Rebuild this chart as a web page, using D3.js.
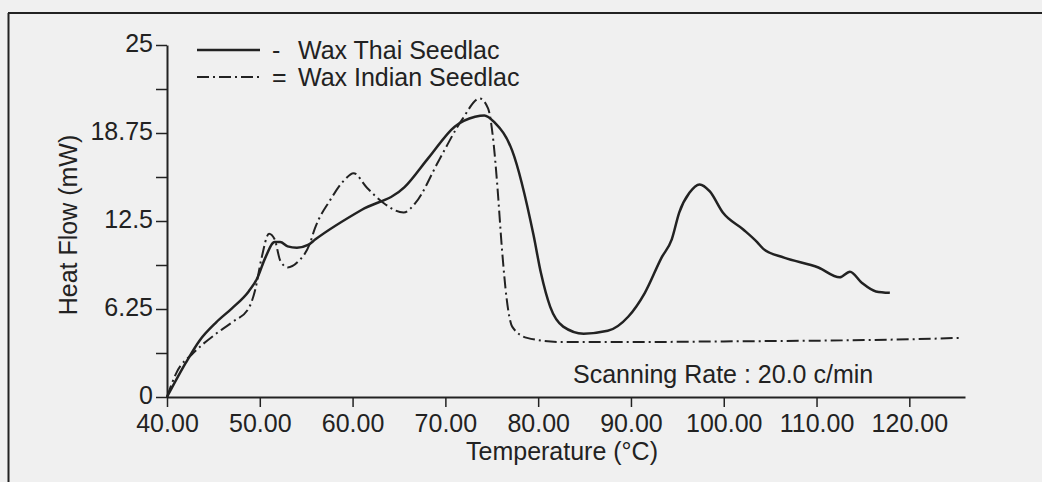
<!DOCTYPE html>
<html>
<head>
<meta charset="utf-8">
<script src="https://cdn.jsdelivr.net/npm/d3@7"></script>
<style>
  html, body { margin: 0; padding: 0; background: #f0f0f0; }
  svg { display: block; }
  text { font-family: "Liberation Sans", Arial, sans-serif; fill: #222; }
</style>
</head>
<body>
<script>
// ---- data ----
const thaiTemp = [40, 42, 43.5, 45.3, 47, 48.8, 49.7, 50.6, 51.6, 52.2, 53, 54, 55.2, 56, 61, 65.6, 68.2, 71, 73.2, 74.2, 75.3, 77.2, 79.5, 80.3, 81.3, 82.7, 84.9, 87.5, 89.7, 91.5, 93.3, 94.4, 95.2, 96.3, 97.4, 98.5, 99.9, 102.1, 103.6, 104.3, 106.5, 110.2, 112.5, 113.6, 114.9, 116.4, 117.9];
const thaiHeat = [0, 2.4, 4.0, 5.3, 6.3, 7.5, 8.4, 9.9, 11.0, 11.0, 10.7, 10.6, 10.8, 11.2, 13.3, 14.9, 17.0, 19.2, 19.9, 20.0, 19.5, 17.5, 11.5, 8.8, 6.4, 5.0, 4.5, 4.7, 5.7, 7.4, 9.9, 11.2, 13.1, 14.5, 15.1, 14.6, 13.1, 11.9, 11.0, 10.5, 9.9, 9.2, 8.5, 8.9, 8.1, 7.5, 7.4];

const indianTemp = [40, 41, 42.8, 45.3, 47, 48.8, 49.5, 50.2, 51, 51.6, 52.2, 53, 54.1, 55.4, 55.9, 57.6, 59.1, 60.1, 61.5, 63.3, 65.5, 66.8, 69.3, 71.8, 73.7, 74.6, 75.2, 75.6, 76.1, 76.6, 77.2, 78.8, 82.5, 90, 100, 110, 120, 125.6];
const indianHeat = [0, 1.7, 3.1, 4.5, 5.3, 6.3, 7.6, 9.9, 11.6, 11.2, 9.7, 9.2, 9.6, 10.9, 11.9, 14.0, 15.4, 15.9, 14.9, 13.8, 13.1, 13.8, 16.8, 19.7, 21.2, 20.5, 18, 15, 10.5, 7, 5.0, 4.2, 3.9, 3.9, 3.95, 4.0, 4.1, 4.2];

const seriesNames = ["Wax Thai Seedlac", "Wax Indian Seedlac"];
const legendMarks = ["-", "="];
const xTicks = [40, 50, 60, 70, 80, 90, 100, 110, 120];
const xTickLabels = ["40.00", "50.00", "60.00", "70.00", "80.00", "90.00", "100.00", "110.00", "120.00"];
const yTicks = [0, 3.125, 6.25, 9.375, 12.5, 15.625, 18.75, 21.875, 25];
const yTickLabels = ["0", "", "6.25", "", "12.5", "", "18.75", "", "25"];
const xTitle = "Temperature (°C)";
const yTitle = "Heat Flow (mW)";
const note = "Scanning Rate : 20.0 c/min";

// ---- layout ----
const W = 1042, H = 482;
const ink = "#222";
const mLeft = 167, mRight = 965, mTop = 45, mBottom = 397;

const svg = d3.select("body").append("svg").attr("width", W).attr("height", H);
svg.append("rect").attr("width", W).attr("height", H).attr("fill", "#f0f0f0");

// frame (top and left edges visible)
svg.append("line").attr("x1", 8).attr("x2", W).attr("y1", 13).attr("y2", 13).attr("stroke", ink).attr("stroke-width", 2);
svg.append("line").attr("x1", 8.5).attr("x2", 8.5).attr("y1", 13).attr("y2", H).attr("stroke", ink).attr("stroke-width", 2);

const x = d3.scaleLinear().domain([40, 126]).range([mLeft, mRight]);
const y = d3.scaleLinear().domain([0, 25]).range([mBottom, mTop]);

const fs = 25;

const xAxis = svg.append("g").attr("transform", `translate(0,${mBottom})`)
  .call(d3.axisBottom(x).tickValues(xTicks).tickFormat((d, i) => xTickLabels[i]).tickSize(10).tickSizeOuter(0).tickPadding(7));
const yAxis = svg.append("g").attr("transform", `translate(${mLeft},0)`)
  .call(d3.axisLeft(y).tickValues(yTicks).tickFormat((d, i) => yTickLabels[i]).tickSize(11).tickSizeOuter(0).tickPadding(3));

[xAxis, yAxis].forEach(g => {
  g.select(".domain").attr("stroke", ink).attr("stroke-width", 2);
  g.selectAll(".tick line").attr("stroke", ink).attr("stroke-width", 1.5);
  g.selectAll(".tick text").attr("font-size", fs).attr("font-family", "Liberation Sans, Arial, sans-serif").attr("fill", ink);
});
yAxis.selectAll(".tick text").attr("dy", "0.25em");

// axis titles
svg.append("text").attr("x", 562).attr("y", 460).attr("text-anchor", "middle")
  .attr("font-size", fs).text(xTitle);
svg.append("text").attr("transform", `translate(77,${(mTop + mBottom) / 2 + 4}) rotate(-90)`)
  .attr("text-anchor", "middle").attr("font-size", fs).text(yTitle);

// curves
const line = d3.line().x(d => x(d[0])).y(d => y(d[1])).curve(d3.curveMonotoneX);
const thai = thaiTemp.map((t, i) => [t, thaiHeat[i]]);
const indian = indianTemp.map((t, i) => [t, indianHeat[i]]);
const dashDot = "12,4,2,4";

svg.append("path").datum(indian).attr("d", line).attr("fill", "none")
  .attr("stroke", ink).attr("stroke-width", 2).attr("stroke-dasharray", dashDot);
svg.append("path").datum(thai).attr("d", line).attr("fill", "none")
  .attr("stroke", ink).attr("stroke-width", 2.5);

// legend
const legY = [50, 77];
legY.forEach((ly, i) => {
  svg.append("line").attr("x1", 197).attr("x2", 260).attr("y1", ly).attr("y2", ly)
    .attr("stroke", ink).attr("stroke-width", i === 0 ? 2.5 : 2)
    .attr("stroke-dasharray", i === 0 ? null : dashDot);
  svg.append("text").attr("x", 272).attr("y", ly).attr("dy", "0.35em").attr("font-size", fs).text(legendMarks[i]);
  svg.append("text").attr("x", 298).attr("y", ly).attr("dy", "0.35em").attr("font-size", fs).text(seriesNames[i]);
});

// note
svg.append("text").attr("x", 573).attr("y", 374).attr("dy", "0.35em").attr("font-size", fs).text(note);
</script>
</body>
</html>
